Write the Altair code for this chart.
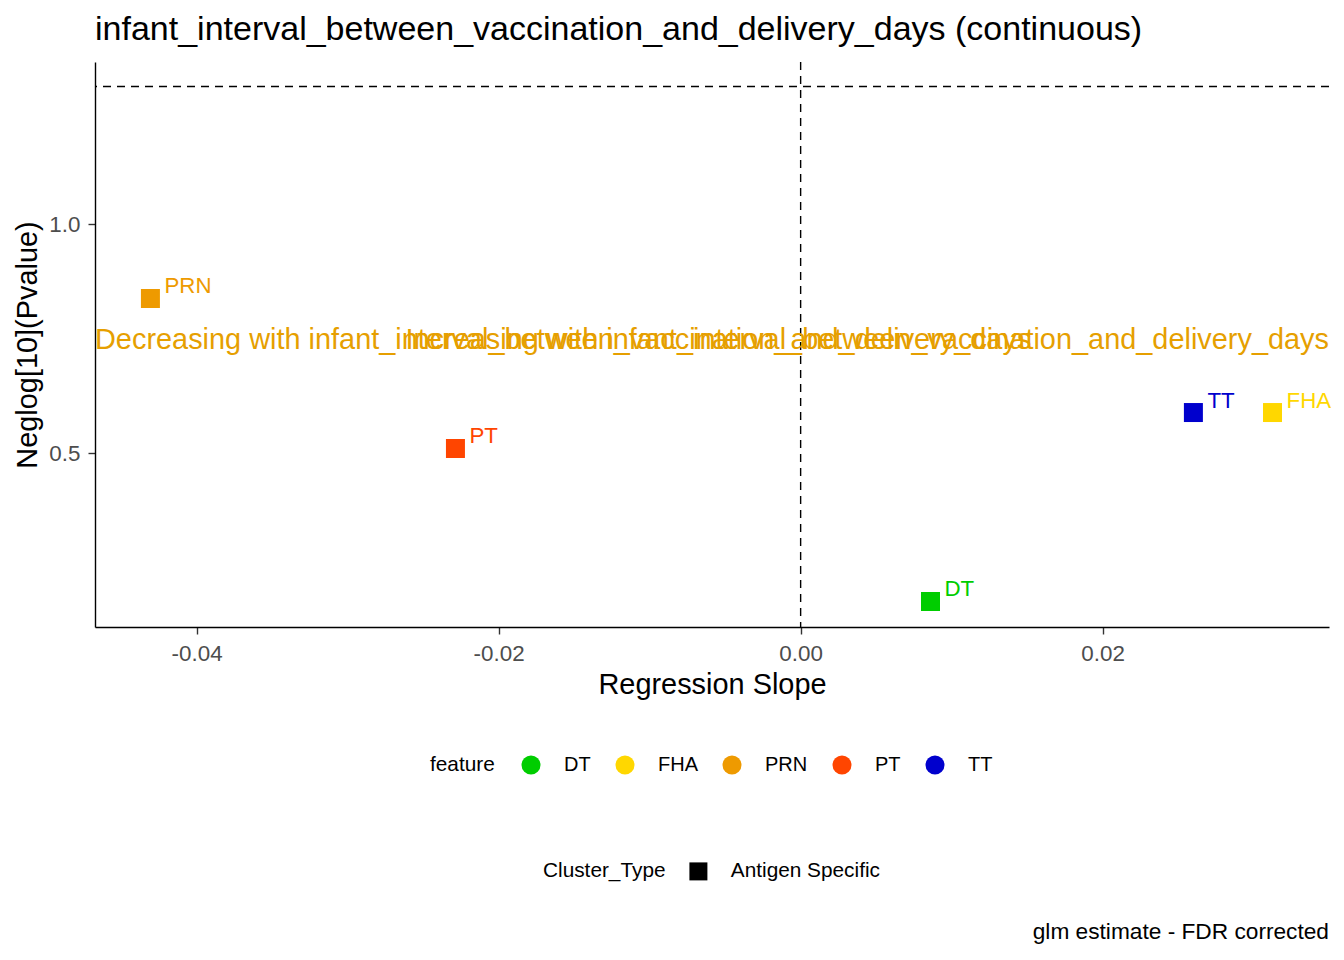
import altair as alt
import pandas as pd

# ---- data ----
features = ["DT", "FHA", "PRN", "PT", "TT"]
slopes = [0.00860, 0.03125, -0.04306, -0.02286, 0.02601]
neglog_p = [0.1764, 0.589, 0.838, 0.5105, 0.589]
cluster_type = ["Antigen Specific"] * 5
feature_colors = ["#00CD00", "#FFD700", "#EE9A00", "#FF4500", "#0000CD"]

x_domain = [-0.04673, 0.03499]
y_domain = [0.1207, 1.3544]
x_ticks = [-0.04, -0.02, 0.00, 0.02]
y_ticks = [0.5, 1.0]
vline_x = [0.0]
hline_y = [1.30103]  # -log10(0.05)

annot_text = [
    "Decreasing with infant_interval_between_vaccination_and_delivery_days",
    "Increasing with infant_interval_between_vaccination_and_delivery_days",
]
annot_y = 0.747

title_text = "infant_interval_between_vaccination_and_delivery_days (continuous)"
caption_text = "glm estimate - FDR corrected"

FONT = "Liberation Sans"
W, H = 1234, 565

df = pd.DataFrame({
    "slope": slopes,
    "neglog": neglog_p,
    "feature": features,
    "Cluster_Type": cluster_type,
})

xscale = alt.Scale(domain=x_domain, nice=False, zero=False)
yscale = alt.Scale(domain=y_domain, nice=False, zero=False)
cscale = alt.Scale(domain=features, range=feature_colors)

x_axis = alt.Axis(
    values=x_ticks,
    labelExpr="datum.value < 0 ? '-' + format(-datum.value, '.2f') : format(datum.value, '.2f')",
    title="Regression Slope",
    labelPadding=8,
    titlePadding=6,
)
y_axis = alt.Axis(
    values=y_ticks,
    format=".1f",
    title="Neglog[10](Pvalue)",
    labelPadding=8,
    titlePadding=6,
)

base = alt.Chart(df)

points = base.mark_point(filled=True, size=361, opacity=1, shape="square").encode(
    x=alt.X("slope:Q", scale=xscale, axis=x_axis),
    y=alt.Y("neglog:Q", scale=yscale, axis=y_axis),
    color=alt.Color(
        "feature:N",
        scale=cscale,
        legend=alt.Legend(
            title="feature",
            orient="none",
            legendX=335,
            legendY=693,
            direction="horizontal",
            titleOrient="left",
            symbolType="circle",
            symbolSize=361,
            symbolStrokeWidth=0,
            symbolOpacity=1,
            labelOffset=23,
            labelFontSize=20,
            columnPadding=24,
            titlePadding=26,
            padding=0,
        ),
    ),
    shape=alt.Shape(
        "Cluster_Type:N",
        scale=alt.Scale(range=["square"]),
        legend=alt.Legend(
            title="Cluster_Type",
            orient="none",
            legendX=448,
            legendY=799,
            direction="horizontal",
            titleOrient="left",
            symbolType="square",
            symbolSize=324,
            symbolFillColor="black",
            symbolStrokeColor="black",
            symbolStrokeWidth=0,
            symbolOpacity=1,
            labelOffset=22,
            titlePadding=22,
            padding=0,
        ),
    ),
)

labels = base.mark_text(
    align="left", baseline="alphabetic", dx=14, dy=-5, fontSize=22.3, font=FONT
).encode(
    x=alt.X("slope:Q", scale=xscale),
    y=alt.Y("neglog:Q", scale=yscale),
    text="feature:N",
    color=alt.Color("feature:N", scale=cscale, legend=None),
)

vline = alt.Chart(pd.DataFrame({"x": vline_x})).mark_rule(
    color="black", strokeDash=[8, 6], strokeWidth=1.4
).encode(x=alt.X("x:Q", scale=xscale))

hline = alt.Chart(pd.DataFrame({"y": hline_y})).mark_rule(
    color="black", strokeDash=[8, 6], strokeWidth=1.4
).encode(y=alt.Y("y:Q", scale=yscale))

annot_dec = alt.Chart(pd.DataFrame({"x": [x_domain[0]], "y": [annot_y], "t": [annot_text[0]]})).mark_text(
    align="left", baseline="middle", fontSize=28.9, font=FONT, color="#E69F00"
).encode(x=alt.X("x:Q", scale=xscale), y=alt.Y("y:Q", scale=yscale), text="t:N")

annot_inc = alt.Chart(pd.DataFrame({"x": [x_domain[1]], "y": [annot_y], "t": [annot_text[1]]})).mark_text(
    align="right", baseline="middle", fontSize=28.9, font=FONT, color="#E69F00"
).encode(x=alt.X("x:Q", scale=xscale), y=alt.Y("y:Q", scale=yscale), text="t:N")

caption = alt.Chart(pd.DataFrame({"t": [caption_text]})).mark_text(
    align="right", baseline="alphabetic", fontSize=22.7, font=FONT, color="black"
).encode(x=alt.value(W), y=alt.value(877), text="t:N")

chart = alt.layer(vline, hline, points, labels, annot_dec, annot_inc, caption).properties(
    width=W,
    height=H,
    title=alt.Title(
        text=title_text,
        anchor="start",
        frame="group",
        fontSize=34,
        fontWeight="normal",
        font=FONT,
        color="black",
        offset=14,
    ),
    autosize=alt.AutoSizeParams(type="none"),
    padding={"left": 87, "top": 54, "right": 7, "bottom": 325},
).configure(background="white").configure_view(stroke=None).configure_axis(
    grid=False,
    domainColor="black",
    domainWidth=1.4,
    tickColor="#333333",
    tickWidth=1.4,
    tickSize=7,
    labelColor="#4D4D4D",
    labelFontSize=22.4,
    labelFont=FONT,
    titleFont=FONT,
    titleFontSize=28.9,
    titleFontWeight="normal",
    titleColor="black",
).configure_legend(
    labelFont=FONT,
    titleFont=FONT,
    labelFontSize=20.8,
    titleFontSize=20.8,
    titleFontWeight="normal",
    labelColor="black",
    titleColor="black",
)

chart.save("out.html", embed_options={"renderer": "svg", "actions": False})
